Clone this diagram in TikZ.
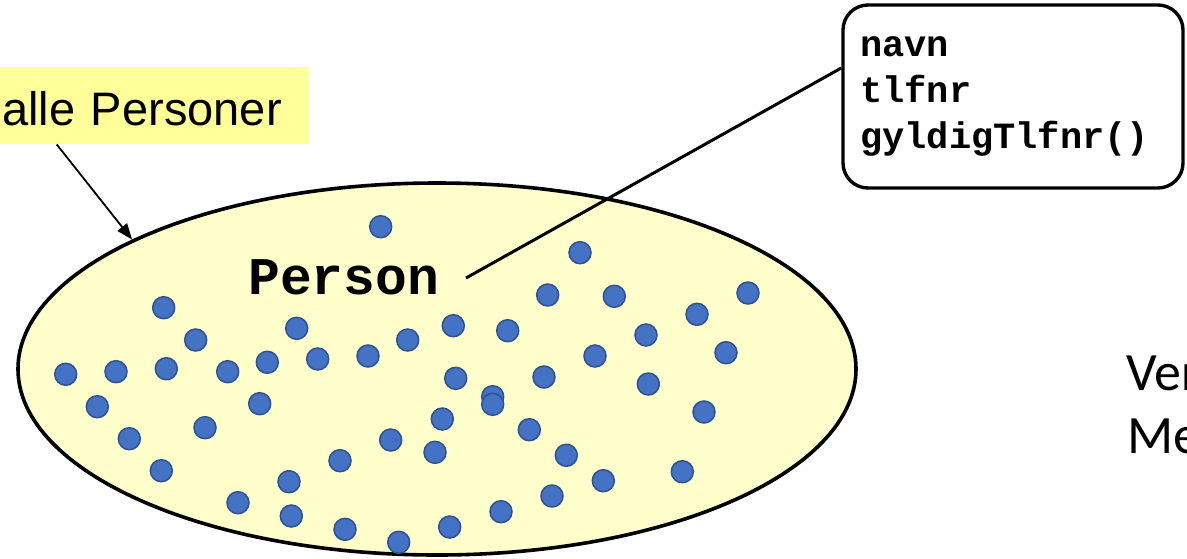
\documentclass[tikz,border=0pt]{standalone}
\usepackage{fontspec}
\setmainfont{Liberation Sans}
\setmonofont{Liberation Mono}
\newfontfamily\calib{Carlito}
\usetikzlibrary{shapes.geometric,arrows.meta,calc}
\definecolor{dotblue}{HTML}{4472C4}
\definecolor{dotedge}{HTML}{2F528F}
\definecolor{setfill}{HTML}{FFFFCC}
\definecolor{lblfill}{HTML}{FFFF99}
\tikzset{
  dot/.style={circle, fill=dotblue, draw=dotedge, line width=1.5pt, minimum size=22pt, inner sep=0pt},
  setshape/.style={ellipse, draw=black, line width=3.6pt, fill=setfill, inner sep=0pt},
  attrbox/.style={draw=black, line width=3.4pt, rounded corners=25pt, fill=white, inner sep=0pt},
  codetext/.style={font=\ttfamily\bfseries\fontsize{37}{40}\selectfont, inner sep=0pt, anchor=base west},
  persontext/.style={font=\ttfamily\bfseries\fontsize{53}{56}\selectfont, inner sep=0pt, anchor=base west},
  sidetext/.style={font=\calib\fontsize{54}{60}\selectfont, inner sep=0pt, anchor=base west},
  lbltext/.style={fill=lblfill, font=\fontsize{47}{50}\selectfont, text width=303pt, align=left, inner xsep=4pt, inner ysep=0pt, minimum height=77pt, text height=39pt, text depth=0pt, anchor=north west}
}
\begin{document}
\begin{tikzpicture}[x=1pt,y=-1pt]
\useasboundingbox (0,0) rectangle (1187,558);
% set
\node[setshape, minimum width=838pt, minimum height=372pt] (ell) at (437,369) {};
% label
\node[lbltext] (lbl) at (-2,67) {alle Personer};
\draw[line width=1.8pt, -{Triangle[length=16pt,width=12pt]}] ([xshift=-97pt]lbl.south) -- (ell.157);
% dots
\foreach [count=\i] \p in {
(380.7,226.7),(163.7,307.7),(195.7,340),(296.7,328.3),(65.7,374.3),(116,371.7),(166.3,368.7),
(227.7,371.7),(267.3,362.3),(317.7,359),(368,356),(407.7,340),(97.3,406.7),(259.7,403.7),
(129.3,438.7),(205,427.7),(161.3,470.7),(390.7,440),(340,460.7),(289,481.7),(238,502.7),
(291.3,516),(345,529.3),(398.7,542.3),
(580,252.7),(547.7,295),(614.3,296.3),(748,293),(697,314.3),(453.3,325.7),(507.7,330.7),
(646,335),(595,356),(726,352.7),(455.7,378.3),(544,377),(648.3,384),(492.7,396.7),(492.7,404.3),
(704,412),(442.3,419),(529.3,429.7),(435,452.3),(566.3,455.3),(682.3,471.7),(603.3,480.7),
(552,496),(501,511.7),(449.7,527)}
  \node[dot] (d\i) at \p {};
% Person
\node[persontext] (person) at (248,294) {Person};
% attribute box
\node[attrbox, minimum width=340pt, minimum height=183pt] (box) at (1013,96.5) {};
\node[codetext] (t1) at (860,56) {navn};
\node[codetext] (t2) at (860,102) {tlfnr};
\node[codetext] (t3) at (860,148) {gyldigTlfnr()};
\coordinate (pc) at (466,278);
\draw[line width=3pt] (pc) -- ([yshift=28.5pt]box.west);
% side text
\node[sidetext] (ver) at (1126,390) {Ver};
\node[sidetext] (me) at (1127,453) {Me};
\end{tikzpicture}
\end{document}
